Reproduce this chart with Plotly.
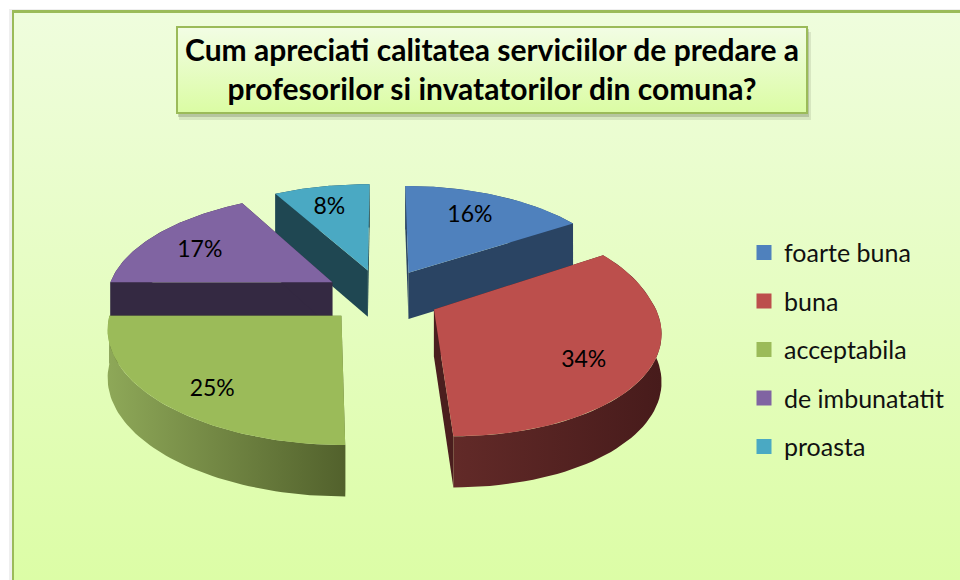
import math
import plotly.graph_objects as go

categories = ["foarte buna", "buna", "acceptabila", "de imbunatatit", "proasta"]
values = [16, 34, 25, 17, 8]
top_colors = ["#4f81bd", "#bc4f4c", "#9bbb59", "#8064a2", "#4aa9c3"]
side_colors = ["#2a4463", "#4a1e1e", "#5a6b33", "#342942", "#1f4752"]
wall_left = ["#2a4463", "#622a28", "#8ea858", "#342942", "#1f4752"]
wall_right = ["#2a4463", "#471b1b", "#52612c", "#342942", "#1f4752"]
title_text = "Cum apreciati calitatea serviciilor de predare a<br>profesorilor si invatatorilor din comuna?"

FONT = "Lato, Carlito, Calibri, sans-serif"
CX, CY, A, B, K, EXPLODE, HEIGHT, SKEW = 382, 296, 226, 105, 0.14, 0.26, 47, 11
RIGHT_SCALE = 0.965


def project(gx, gy, drop=False):
    d = 1 + K * gy
    sx = gx if gx < 0 else gx * RIGHT_SCALE
    x = CX + A * sx / d + SKEW * max(-gy, 0)
    y = CY - B * gy / d
    if drop:
        y += HEIGHT / math.sqrt(d)
    return x, y


total = sum(values)
slices = []
acc = 0
for v in values:
    a0 = 2 * math.pi * acc / total
    acc += v
    a1 = 2 * math.pi * acc / total
    slices.append((a0, a1))


def ground(i, r, th):
    a0, a1 = slices[i]
    mid = (a0 + a1) / 2
    return (r * math.sin(th) + EXPLODE * math.sin(mid),
            r * math.cos(th) + EXPLODE * math.cos(mid))


def arc(i, n=60):
    a0, a1 = slices[i]
    return [a0 + (a1 - a0) * k / n for k in range(n + 1)]


fig = go.Figure()


def poly(pts, color=None, gradient=None):
    xs = [p[0] for p in pts] + [pts[0][0]]
    ys = [p[1] for p in pts] + [pts[0][1]]
    kw = dict(x=xs, y=ys, mode="lines", fill="toself", line=dict(width=0),
              hoverinfo="skip", showlegend=False)
    if gradient:
        kw["fillgradient"] = gradient
        kw["fillcolor"] = "rgba(0,0,0,0)"
    else:
        kw["fillcolor"] = color
    fig.add_trace(go.Scatter(**kw))


def rect(x0, y0, x1, y1, color=None, gradient=None):
    poly([(x0, y0), (x1, y0), (x1, y1), (x0, y1)], color, gradient)


def vgrad(top, bottom):
    # the y axis runs downwards, so the scale is given bottom colour first
    return dict(type="vertical", colorscale=[[0, bottom], [1, top]])


# chart area frame, shadow and background
rect(9, 9, 960, 580, "rgba(120,120,120,0.12)")
rect(12, 10, 960, 580, "#9bbb59")
rect(14, 13, 960, 580, gradient=vgrad("#effddd", "#dcfda6"))

# title box
rect(179, 32, 811, 120, "rgba(90,100,70,0.14)")
rect(178, 29, 809, 117, "rgba(90,100,70,0.26)")
rect(176, 26, 808, 114, "#9bbb59")
rect(178, 28, 806, 112, gradient=vgrad("#f2fde4", "#dbfca4"))


def draw_slice(i):
    a0, a1 = slices[i]
    th = arc(i)
    apex = ground(i, 0, 0)
    mid = (a0 + a1) / 2
    top_arc = [project(*ground(i, 1, t)) for t in th]
    low_arc = [project(*ground(i, 1, t), drop=True) for t in th]
    wall = top_arc + low_arc[::-1]
    grad = dict(type="horizontal", colorscale=[[0, wall_left[i]], [1, wall_right[i]]])

    def radial(t):
        e = ground(i, 1, t)
        poly([project(*apex), project(*e), project(*e, drop=True), project(*apex, drop=True)],
             side_colors[i])

    far = math.cos(mid) > 0
    if far:
        poly(wall, color=side_colors[i])
    radial(a0)
    radial(a1)
    if not far:
        poly(wall, gradient=grad)
    poly([project(*apex)] + top_arc, top_colors[i])


# back slices first, then the two front ones
for i in [0, 4, 3, 2, 1]:
    draw_slice(i)

# data labels, placed through the same projection
lx, ly, lt = [], [], []
for i, v in enumerate(values):
    mid = sum(slices[i]) / 2
    gx, gy = ground(i, 0.72, mid)
    x, y = project(gx, gy)
    lx.append(x - 4)
    ly.append(y + 8 - 8 * gy)
    lt.append(f"{v}%")
fig.add_trace(go.Scatter(x=lx, y=ly, mode="text", text=lt, textposition="middle center",
                         textfont=dict(family=FONT, size=23, color="#000000"),
                         hoverinfo="skip", showlegend=False))

# legend entries
for i, c in enumerate(categories):
    fig.add_trace(go.Scatter(x=[None], y=[None], mode="markers", name=c, legendgroup=c,
                             marker=dict(symbol="square", size=15, color=top_colors[i])))

fig.update_layout(
    width=960, height=580,
    margin=dict(l=0, r=0, t=0, b=0),
    paper_bgcolor="#ffffff",
    plot_bgcolor="rgba(0,0,0,0)",
    xaxis=dict(range=[0, 960], visible=False, fixedrange=True),
    yaxis=dict(range=[580, 0], visible=False, fixedrange=True),
    title=dict(text=title_text, x=0.5125, xanchor="center", y=0.894, yanchor="top",
               font=dict(family=FONT, size=30, color="#000000", weight="bold")),
    legend=dict(x=0.775, y=0.604, xanchor="left", yanchor="top", bgcolor="rgba(0,0,0,0)",
                font=dict(family=FONT, size=25, color="#111111"),
                tracegroupgap=13, itemclick=False, itemdoubleclick=False),
    showlegend=True,
)

fig.write_html("out.html", config={"displayModeBar": False},
               post_script="document.body.style.margin='0';document.body.style.overflow='hidden';")
